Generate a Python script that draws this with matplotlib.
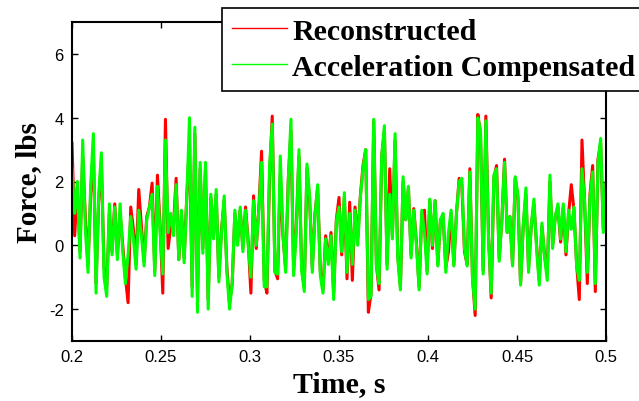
#!/usr/bin/env python3
# -*- coding: utf-8 -*-

import numpy as np
import matplotlib
matplotlib.use("Agg")
import matplotlib.pyplot as plt
from matplotlib.ticker import FixedLocator


# =====================================================
# Datos (paso 0.0015 s, 0.2 -> 0.5 s)
# =====================================================
t_inicio = 0.2
t_paso = 0.0015

acel_compensada = [
    2.4, 1.0, 2.0, -0.4, 3.3, 0.5, -0.85, 1.9, 3.5, -1.5,
    1.6, 2.9, -1.0, -1.6, 1.3, -0.3, 1.2, -0.45, 1.3, -0.2,
    -1.2, -0.3, 0.9, 0.2, -0.75, 1.1, 0.3, -0.65, 0.8, 1.2,
    1.6, -0.95, 1.85, 0.4, -0.9, 3.3, 0.4, 1.0, 0.3, 1.9,
    -0.45, 1.1, -0.55, 1.5, 4.0, -1.6, 3.7, -2.1, 2.6, -0.25,
    2.6, -2.0, 1.6, 0.2, 1.75, -1.15, 0.4, 1.55, -0.85, -2.0,
    -1.2, 1.1, 0.0, 1.2, -0.2, 1.1, 0.0, -1.0, 1.4, 0.0,
    1.1, 2.6, -1.3, -1.3, 2.5, 3.8, -0.85, -0.9, 2.8, 0.4,
    -0.85, 2.0, 3.95, -0.95, 0.4, 3.0, -0.8, -1.45, 2.55, 1.55,
    -0.85, 0.9, 1.9, -0.95, -1.5, 0.2, -0.6, 0.3, -1.7, 0.75,
    1.2, -0.2, 1.65, -0.85, 1.0, -0.6, 1.1, 0.0, 1.5, 2.4,
    3.0, -1.7, -1.6, 3.95, -0.65, -1.2, 2.8, 3.75, -0.75, 1.6,
    0.2, 3.5, -0.4, -1.4, 2.15, 0.8, 1.85, -0.4, 1.1, 0.0,
    -1.4, 1.1, 0.4, -0.9, 1.45, 0.0, 1.4, -0.65, 0.8, 1.0,
    -0.85, 0.4, 1.1, -0.65, 1.0, 2.0, 2.1, -0.1, -0.65, 2.3,
    -1.05, -2.0, 4.0, 3.6, -0.9, 3.9, 0.2, -1.5, 2.2, 2.4,
    -0.5, 0.8, 2.6, 0.4, 0.9, -0.65, 2.15, 1.6, -1.25, 0.6,
    1.8, -0.85, 0.6, 1.45, -0.1, -1.25, 0.7, -0.4, -1.1, 2.2,
    -0.1, 0.9, 1.3, 0.2, 1.3, -0.2, 1.1, 0.5, 1.2, -0.65,
    -1.1, 2.4, 1.4, -0.85, 1.5, 2.3, -1.2, 2.6, 3.35, 0.4,
    1.95,
]

reconstruida = [
    3.2, 0.3, 1.8, -0.2, 2.8, 0.9, -0.6, 1.6, 3.0, -1.2,
    1.4, 2.6, -0.7, -1.3, 1.0, -0.2, 1.3, -0.3, 1.0, 0.0,
    -1.0, -1.8, 1.2, 0.5, -0.6, 1.75, 0.6, -0.5, 0.9, 1.2,
    1.95, -0.8, 2.2, 0.6, -1.5, 3.95, -0.1, 0.6, 0.6, 2.1,
    -0.45, 1.0, -0.4, 1.55, 3.2, -1.3, 3.5, -1.6, 2.4, -0.1,
    2.4, -1.7, 1.5, 0.3, 1.6, -1.0, 0.5, 1.4, -0.7, -1.8,
    -1.2, 1.0, 0.1, 1.1, -0.1, 1.2, 0.1, -1.5, 1.55, -0.1,
    1.2, 2.95, -1.1, -1.5, 2.2, 4.05, -0.8, -1.05, 2.2, 0.3,
    -0.7, 2.05, 3.6, -0.8, 0.6, 2.8, -0.7, -1.3, 2.4, 1.4,
    -0.7, 1.0, 1.8, -0.8, -1.4, 0.3, -0.5, 0.4, -1.5, 0.8,
    1.5, -0.3, 1.5, -1.05, 1.35, -1.1, 1.2, 0.2, 1.55, 2.5,
    3.0, -2.1, -1.5, 3.9, -0.6, -1.4, 2.8, 3.6, -0.6, 2.4,
    0.3, 3.3, -0.3, -1.3, 2.0, 0.8, 1.8, -0.3, 1.15, 0.1,
    -1.3, 1.0, 1.1, -0.8, 1.4, -0.1, 1.4, -0.6, 0.8, 0.9,
    -0.7, -0.2, 1.0, -0.6, 1.0, 2.1, 1.9, -0.2, -0.6, 2.4,
    -1.0, -2.2, 4.1, 3.5, -0.8, 4.05, 0.3, -1.65, 2.1, 2.5,
    -0.4, 0.8, 2.7, 0.4, 0.9, -0.6, 2.1, 1.5, -1.2, 0.6,
    1.6, -0.7, 0.6, 1.3, 0.0, -1.1, 0.6, -0.3, -0.9, 2.0,
    0.0, 0.9, 1.2, 0.1, 1.2, -0.3, 1.0, 1.9, 1.1, -0.6,
    -1.7, 3.3, 1.3, -1.2, 1.6, 2.5, -1.45, 2.7, 3.2, 0.5,
    1.9,
]

x_ticks = [0.2, 0.25, 0.3, 0.35, 0.4, 0.45, 0.5]
x_tick_labels = ["0.2", "0.25", "0.3", "0.35", "0.4", "0.45", "0.5"]
y_ticks = [-2, 0, 2, 4, 6]
y_tick_labels = ["-2", "0", "2", "4", "6"]


# =====================================================
# Grafico
# =====================================================
def grafico_fuerza(salida):
    tiempo = t_inicio + t_paso * np.arange(len(acel_compensada))

    fuente_serif = {"family": "Liberation Serif", "weight": "bold"}

    fig = plt.figure(figsize=(6.39, 4.02), dpi=100)
    ax = fig.add_axes([72 / 639, 60 / 402, 534 / 639, 319 / 402])

    ax.plot(tiempo, reconstruida, color="#FF0000", linewidth=2.2,
            label="Reconstructed")
    ax.plot(tiempo, acel_compensada, color="#00FF00", linewidth=2.2,
            label="Acceleration Compensated")

    ax.set_xlim(0.2, 0.5)
    ax.set_ylim(-3, 7)

    ax.xaxis.set_major_locator(FixedLocator(x_ticks))
    ax.set_xticklabels(x_tick_labels)
    ax.yaxis.set_major_locator(FixedLocator(y_ticks))
    ax.set_yticklabels(y_tick_labels)

    ax.tick_params(direction="in", length=4.5, width=1, top=True, right=True,
                   labelsize=12, pad=6)
    for lab in ax.get_xticklabels() + ax.get_yticklabels():
        lab.set_family("Liberation Sans")

    for sp in ax.spines.values():
        sp.set_linewidth(1.5)

    ax.set_xlabel("Time, s", fontsize=21.5, labelpad=4, **fuente_serif)
    ax.set_ylabel("Force, lbs", fontsize=21, labelpad=5, **fuente_serif)

    # la leyenda se sale por la derecha, igual que en la figura original
    leg = ax.legend(loc="upper left",
                    bbox_to_anchor=(222 / 639, 1 - 9 / 402),
                    bbox_transform=fig.transFigure,
                    prop={"family": "Liberation Serif", "weight": "bold",
                          "size": 21.5},
                    frameon=True, fancybox=False, framealpha=1,
                    edgecolor="black", borderpad=0.33, labelspacing=0.3,
                    handlelength=1.85, handletextpad=0.18, borderaxespad=0)
    leg.get_frame().set_linewidth(1.2)
    for linea in leg.get_lines():
        linea.set_linewidth(1.0)

    fig.savefig(salida, dpi=100)
    plt.close(fig)


if __name__ == "__main__":
    grafico_fuerza("out.png")
